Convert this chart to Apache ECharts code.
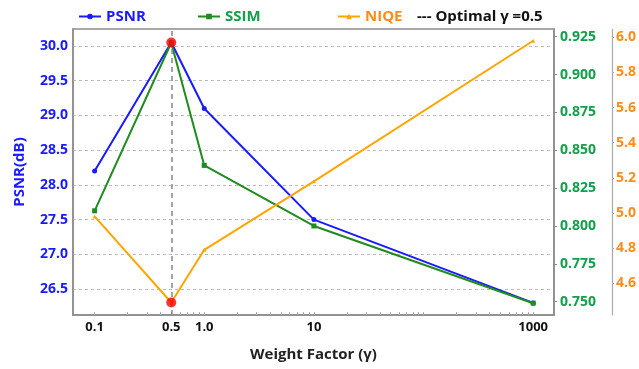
<!DOCTYPE html>
<html>
<head>
<meta charset="utf-8">
<script src="https://cdn.jsdelivr.net/npm/echarts@6/dist/echarts.min.js"></script>
<style>
  html, body { margin: 0; padding: 0; background: #fff; }
  #chart { width: 639px; height: 369px; }
</style>
</head>
<body>
<div id="chart"></div>
<script>
// weight factor values (log axis)
var gammaValues = [0.1, 0.5, 1, 10, 1000];
var psnrValues = [28.2, 30.05, 29.1, 27.5, 26.3];
var ssimValues = [0.810, 0.921, 0.840, 0.800, 0.749];
var niqeValues = [4.98, 4.49, 4.79, 5.18, 5.98];
var optimalGamma = 0.5;

// tick labels
var gammaTicks = [0.1, 0.5, 1, 10, 1000];
var gammaMinorTicks = [0.1, 0.2, 0.3, 0.4, 0.5, 0.6, 0.7, 0.8, 0.9, 1, 2, 3, 4, 5, 6, 7, 8, 9,
  10, 20, 30, 40, 50, 60, 70, 80, 90, 100, 200, 300, 400, 500, 600, 700, 800, 900, 1000];
var psnrTicks = [26.5, 27.0, 27.5, 28.0, 28.5, 29.0, 29.5, 30.0];
var ssimTicks = [0.750, 0.775, 0.800, 0.825, 0.850, 0.875, 0.900, 0.925];
var niqeTicks = [4.6, 4.8, 5.0, 5.2, 5.4, 5.6, 5.8, 6.0];

var FONT = 'Open Sans';
var BLUE = '#1a1aff', GREEN = '#1e8c1e', ORANGE = '#ffa500';
var GREEN_TXT = '#12a04a', ORANGE_TXT = '#ff8c1a';

function pairs(ys) {
  return gammaValues.map(function (x, i) { return [x, ys[i]]; });
}
var optIdx = gammaValues.indexOf(optimalGamma);

var chart = echarts.init(document.getElementById('chart'));

var legendBase = {
  top: 4,
  itemWidth: 22,
  itemHeight: 7,
  textStyle: { fontFamily: FONT, fontWeight: 'bold', fontSize: 15 }
};

chart.setOption({
  animation: false,
  grid: {
    left: 73, right: 81, top: 29, bottom: 54,
    show: true, borderColor: '#8c8c8c', borderWidth: 1.5
  },
  legend: [
    Object.assign({}, legendBase, { left: 73, data: [{ name: 'PSNR', textStyle: { color: BLUE } }] }),
    Object.assign({}, legendBase, { left: 192, data: [{ name: 'SSIM', textStyle: { color: GREEN_TXT } }] }),
    Object.assign({}, legendBase, { left: 332, data: [{ name: 'NIQE', textStyle: { color: ORANGE_TXT } }] }),
    Object.assign({}, legendBase, {
      left: 407, itemWidth: 0,
      formatter: '--- {name}',
      data: [{ name: 'Optimal γ =0.5', icon: 'none', textStyle: { color: '#111' } }]
    })
  ],
  xAxis: {
    type: 'log',
    min: 0.0635,
    max: 1549,
    name: 'Weight Factor (γ)',
    nameLocation: 'middle',
    nameGap: 32,
    nameTextStyle: { fontFamily: FONT, fontWeight: 'bold', fontSize: 15, color: '#222' },
    axisLine: { lineStyle: { color: '#8c8c8c', width: 1.5 } },
    axisTick: { show: true, inside: true, length: 3, customValues: gammaMinorTicks, lineStyle: { color: '#aaa' } },
    axisLabel: {
      customValues: gammaTicks,
      margin: 6,
      fontFamily: FONT, fontWeight: 'bold', fontSize: 13, color: '#111',
      formatter: function (v) { return v === 1 ? '1.0' : String(v); }
    },
    splitLine: { show: false }
  },
  yAxis: [
    {
      type: 'value',
      min: 26.126, max: 30.245,
      position: 'left',
      name: 'PSNR(dB)',
      nameLocation: 'middle',
      nameGap: 46,
      nameTextStyle: { fontFamily: FONT, fontWeight: 'bold', fontSize: 15, color: BLUE },
      axisLine: { show: true, lineStyle: { color: '#8c8c8c', width: 1.5 } },
      axisTick: { show: false, customValues: psnrTicks },
      axisLabel: {
        customValues: psnrTicks, margin: 5,
        fontFamily: FONT, fontWeight: 'bold', fontSize: 14, color: BLUE,
        formatter: function (v) { return v.toFixed(1); }
      },
      splitLine: { show: true, lineStyle: { color: '#bbb', type: [3, 3], width: 1 } }
    },
    {
      type: 'value',
      min: 0.7412, max: 0.9301,
      position: 'right',
      axisLine: { show: true, lineStyle: { color: '#8c8c8c', width: 1.5 } },
      axisTick: { show: true, length: 3, customValues: ssimTicks, lineStyle: { color: '#888' } },
      axisLabel: {
        customValues: ssimTicks, margin: 6,
        fontFamily: FONT, fontWeight: 'bold', fontSize: 14, color: GREEN_TXT,
        formatter: function (v) { return v.toFixed(3); }
      },
      splitLine: { show: false }
    },
    {
      type: 'value',
      min: 4.419, max: 6.047,
      position: 'right',
      offset: 58,
      axisLine: { show: true, lineStyle: { color: '#aaa', width: 1.2 } },
      axisTick: { show: true, length: 2, customValues: niqeTicks, lineStyle: { color: '#aaa' } },
      axisLabel: {
        customValues: niqeTicks, margin: 4,
        fontFamily: FONT, fontWeight: 'bold', fontSize: 14, color: ORANGE_TXT,
        formatter: function (v) { return v.toFixed(1); }
      },
      splitLine: { show: false }
    }
  ],
  series: [
    {
      name: 'Optimal γ =0.5',
      type: 'line',
      color: '#888',
      data: [],
      z: 1,
      markLine: {
        silent: true,
        symbol: ['none', 'none'],
        label: { show: false },
        lineStyle: { color: '#888', type: [5, 4], width: 1.5 },
        data: [{ xAxis: optimalGamma }]
      }
    },
    {
      name: 'PSNR',
      type: 'line',
      yAxisIndex: 0,
      color: BLUE,
      symbol: 'circle',
      symbolSize: 5,
      lineStyle: { width: 2 },
      data: pairs(psnrValues)
    },
    {
      name: 'SSIM',
      type: 'line',
      yAxisIndex: 1,
      color: GREEN,
      symbol: 'rect',
      symbolSize: 5,
      lineStyle: { width: 2 },
      data: pairs(ssimValues)
    },
    {
      name: 'NIQE',
      type: 'line',
      yAxisIndex: 2,
      color: ORANGE,
      symbol: 'triangle',
      symbolSize: 4,
      lineStyle: { width: 2 },
      data: pairs(niqeValues)
    },
    {
      type: 'scatter',
      yAxisIndex: 0,
      color: '#ff0000',
      symbolSize: 10,
      z: 10,
      data: [[optimalGamma, psnrValues[optIdx]]]
    },
    {
      type: 'scatter',
      yAxisIndex: 2,
      color: '#ff0000',
      symbolSize: 10,
      z: 10,
      data: [[optimalGamma, niqeValues[optIdx]]]
    }
  ]
});
</script>
</body>
</html>
